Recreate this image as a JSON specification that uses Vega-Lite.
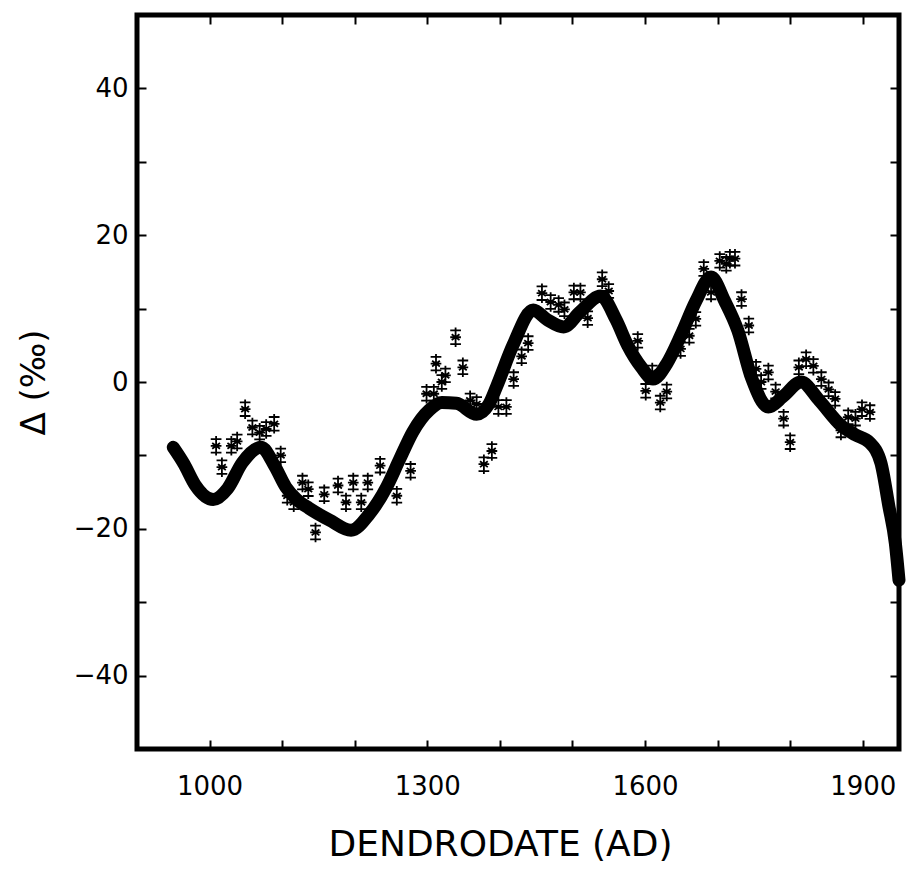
{
  "$schema": "https://vega.github.io/schema/vega-lite/v6.json",
  "width": 762,
  "height": 734,
  "autosize": {"type": "none"},
  "padding": {"left": 137, "top": 15, "right": 8, "bottom": 120},
  "background": "white",
  "config": {
    "view": {"stroke": "black", "strokeWidth": 5},
    "axis": {
      "domain": false,
      "grid": false,
      "tickColor": "black",
      "tickWidth": 2,
      "tickSize": -9,
      "labelFont": "DejaVu Sans",
      "labelFontSize": 26,
      "labelColor": "black",
      "titleFont": "DejaVu Sans",
      "titleFontWeight": "normal",
      "titleColor": "black"
    }
  },
  "datasets": {
    "curve": [
      {"year": 950, "delta": -8.9}, {"year": 965, "delta": -11.2}, {"year": 980, "delta": -14},
      {"year": 1005, "delta": -16}, {"year": 1025, "delta": -14.5}, {"year": 1045, "delta": -11},
      {"year": 1071, "delta": -8.9}, {"year": 1090, "delta": -11.5}, {"year": 1105, "delta": -14.3},
      {"year": 1120, "delta": -16}, {"year": 1137, "delta": -17.2}, {"year": 1165, "delta": -18.8},
      {"year": 1195, "delta": -20.2}, {"year": 1220, "delta": -18}, {"year": 1244, "delta": -14.3},
      {"year": 1262, "delta": -10.5}, {"year": 1280, "delta": -6.8}, {"year": 1303, "delta": -3.8},
      {"year": 1320, "delta": -2.8}, {"year": 1340, "delta": -2.9}, {"year": 1368, "delta": -4.4},
      {"year": 1385, "delta": -3}, {"year": 1396, "delta": -0.5}, {"year": 1418, "delta": 5},
      {"year": 1446, "delta": 9.8}, {"year": 1465, "delta": 8.5}, {"year": 1488, "delta": 7.5},
      {"year": 1510, "delta": 9.5}, {"year": 1539, "delta": 11.7}, {"year": 1560, "delta": 8.5},
      {"year": 1576, "delta": 5}, {"year": 1595, "delta": 2}, {"year": 1611, "delta": 0.4},
      {"year": 1630, "delta": 2.5}, {"year": 1650, "delta": 6.5}, {"year": 1670, "delta": 11},
      {"year": 1691, "delta": 14.3}, {"year": 1710, "delta": 11}, {"year": 1728, "delta": 7},
      {"year": 1747, "delta": 0.5}, {"year": 1770, "delta": -3.4}, {"year": 1790, "delta": -2},
      {"year": 1815, "delta": 0}, {"year": 1840, "delta": -2.5}, {"year": 1871, "delta": -6},
      {"year": 1890, "delta": -7.2}, {"year": 1909, "delta": -8.2}, {"year": 1925, "delta": -11},
      {"year": 1936, "delta": -16.9}, {"year": 1945, "delta": -22}, {"year": 1950, "delta": -27}
    ],
    "obs": [
      {"year": 1009, "delta": -8.7}, {"year": 1017, "delta": -11.6}, {"year": 1030, "delta": -8.7},
      {"year": 1038, "delta": -8.1}, {"year": 1049, "delta": -3.7}, {"year": 1059, "delta": -6.2},
      {"year": 1069, "delta": -6.9}, {"year": 1078, "delta": -6.4}, {"year": 1089, "delta": -5.7},
      {"year": 1098, "delta": -10.0}, {"year": 1107, "delta": -15.5}, {"year": 1116, "delta": -16.4},
      {"year": 1128, "delta": -13.7}, {"year": 1136, "delta": -14.6}, {"year": 1146, "delta": -20.5},
      {"year": 1158, "delta": -15.3}, {"year": 1177, "delta": -14.1}, {"year": 1188, "delta": -16.4},
      {"year": 1198, "delta": -13.7}, {"year": 1209, "delta": -16.4}, {"year": 1218, "delta": -13.7},
      {"year": 1235, "delta": -11.4}, {"year": 1258, "delta": -15.5}, {"year": 1277, "delta": -12.1},
      {"year": 1299, "delta": -1.6}, {"year": 1309, "delta": -1.6}, {"year": 1312, "delta": 2.5},
      {"year": 1320, "delta": 0}, {"year": 1325, "delta": 0.9}, {"year": 1339, "delta": 6.1},
      {"year": 1349, "delta": 2.0}, {"year": 1359, "delta": -2.5}, {"year": 1368, "delta": -3.0},
      {"year": 1378, "delta": -11.2}, {"year": 1389, "delta": -9.4}, {"year": 1398, "delta": -3.4},
      {"year": 1409, "delta": -3.4}, {"year": 1419, "delta": 0.4}, {"year": 1430, "delta": 3.5},
      {"year": 1439, "delta": 5.3}, {"year": 1458, "delta": 12.1}, {"year": 1470, "delta": 10.9},
      {"year": 1481, "delta": 10.5}, {"year": 1489, "delta": 9.9}, {"year": 1502, "delta": 12.2},
      {"year": 1511, "delta": 12.2}, {"year": 1521, "delta": 8.7}, {"year": 1541, "delta": 14},
      {"year": 1550, "delta": 12.4}, {"year": 1590, "delta": 5.6}, {"year": 1601, "delta": -1.2},
      {"year": 1610, "delta": 1.3}, {"year": 1621, "delta": -2.8}, {"year": 1630, "delta": -1.3},
      {"year": 1649, "delta": 4.5}, {"year": 1661, "delta": 6.3}, {"year": 1670, "delta": 8.6},
      {"year": 1681, "delta": 15.4}, {"year": 1691, "delta": 12.2}, {"year": 1703, "delta": 16.5},
      {"year": 1712, "delta": 16.1}, {"year": 1717, "delta": 16.8}, {"year": 1724, "delta": 16.8},
      {"year": 1733, "delta": 11.3}, {"year": 1743, "delta": 7.7}, {"year": 1753, "delta": 1.8},
      {"year": 1760, "delta": 0}, {"year": 1770, "delta": 1.3}, {"year": 1780, "delta": -1.3},
      {"year": 1791, "delta": -5.0}, {"year": 1800, "delta": -8.2}, {"year": 1812, "delta": 2.0},
      {"year": 1822, "delta": 3.1}, {"year": 1832, "delta": 2.2}, {"year": 1843, "delta": 0.4},
      {"year": 1853, "delta": -1.0}, {"year": 1862, "delta": -2.3}, {"year": 1870, "delta": -6.6},
      {"year": 1880, "delta": -4.8}, {"year": 1890, "delta": -5.0}, {"year": 1899, "delta": -3.7},
      {"year": 1910, "delta": -4.1}
    ]
  },
  "layer": [
    {
      "mark": {"type": "rule", "color": "black", "strokeWidth": 1.2},
      "encoding": {
        "y": {"datum": 0, "type": "quantitative", "scale": {"domain": [-50, 50], "nice": false}, "axis": null}
      }
    },
    {
      "data": {"name": "curve"},
      "mark": {"type": "line", "interpolate": "monotone", "strokeWidth": 13, "strokeCap": "round", "strokeJoin": "round", "color": "black"},
      "encoding": {
        "x": {
          "field": "year", "type": "quantitative",
          "scale": {"domain": [900, 1950], "nice": false, "zero": false},
          "axis": {
            "orient": "bottom", "values": [1000, 1100, 1200, 1300, 1400, 1500, 1600, 1700, 1800, 1900],
            "labelExpr": "datum.value % 300 == 100 ? datum.label : ''",
            "format": "d", "labelPadding": 33,
            "title": "DENDRODATE (AD)", "titleFontSize": 36, "titlePadding": 28, "titleX": 363
          }
        },
        "y": {
          "field": "delta", "type": "quantitative",
          "scale": {"domain": [-50, 50], "nice": false},
          "axis": {
            "orient": "left", "values": [-40, -30, -20, -10, 0, 10, 20, 30, 40],
            "labelExpr": "datum.value % 20 == 0 ? datum.label : ''",
            "labelPadding": 18,
            "title": "Δ (‰)", "titleFontSize": 34, "titlePadding": 22
          }
        }
      }
    },
    {
      "data": {"name": "obs"},
      "mark": {
        "type": "point",
        "shape": "M0,-1L0,1M-0.55,-0.7L0.55,-0.7M-0.55,0L0.55,0M-0.55,0.7L0.55,0.7M-0.4,-0.3L0.4,0.3M-0.4,0.3L0.4,-0.3",
        "size": 380, "filled": false, "stroke": "black", "strokeWidth": 1.8, "opacity": 1
      },
      "encoding": {
        "x": {
          "field": "year", "type": "quantitative",
          "scale": {"domain": [900, 1950], "nice": false, "zero": false},
          "axis": {"orient": "top", "values": [1000, 1100, 1200, 1300, 1400, 1500, 1600, 1700, 1800, 1900], "labels": false, "title": null}
        },
        "y": {
          "field": "delta", "type": "quantitative",
          "scale": {"domain": [-50, 50], "nice": false},
          "axis": {"orient": "right", "values": [-40, -30, -20, -10, 0, 10, 20, 30, 40], "labels": false, "title": null}
        }
      }
    }
  ],
  "resolve": {"axis": {"x": "independent", "y": "independent"}}
}
